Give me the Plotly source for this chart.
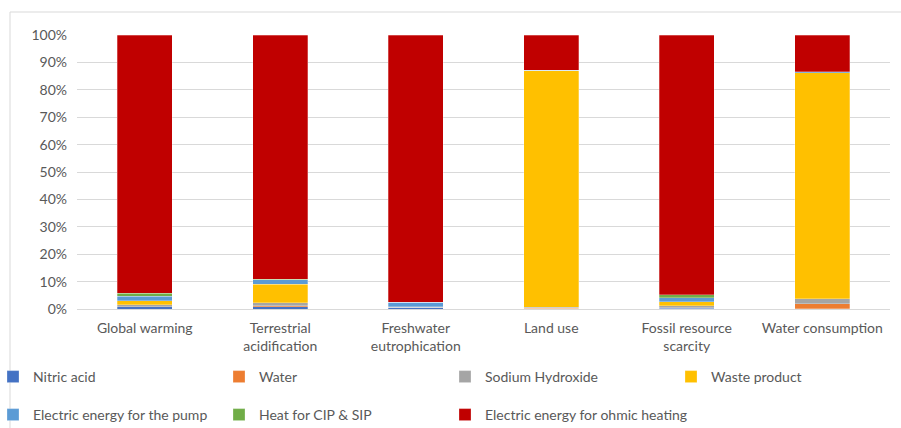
import plotly.graph_objects as go

categories = ["Global warming", "Terrestrial<br>acidification", "Freshwater<br>eutrophication",
              "Land use", "Fossil resource<br>scarcity", "Water consumption"]

nitric_acid = [0.8, 0.9, 0.4, 0.1, 0.3, 0.1]
water = [0.1, 0.2, 0.1, 0.1, 0.1, 1.8]
sodium_hydroxide = [0.7, 1.2, 0.1, 0.4, 0.7, 1.8]
waste_product = [1.5, 6.8, 0.2, 86.4, 1.5, 82.5]
pump_energy = [1.6, 1.5, 1.6, 0.1, 1.5, 0.3]
heat_cip_sip = [1.0, 0.2, 0.1, 0.0, 1.1, 0.1]
ohmic_heating = [94.3, 89.2, 97.5, 12.9, 94.8, 13.4]

y_ticks = list(range(0, 101, 10))
y_tick_labels = [f"{v}%" for v in y_ticks]

series = [
    ("Nitric acid", nitric_acid, "#4472C4"),
    ("Water", water, "#ED7D31"),
    ("Sodium Hydroxide", sodium_hydroxide, "#A5A5A5"),
    ("Waste product", waste_product, "#FFC000"),
    ("Electric energy for the pump", pump_energy, "#5B9BD5"),
    ("Heat for CIP & SIP", heat_cip_sip, "#70AD47"),
    ("Electric energy for ohmic heating", ohmic_heating, "#C00000"),
]

FONT = "Lato, 'Open Sans', sans-serif"
GREY = "#595959"

W, H = 901, 428
L, R, T, B = 77, 11, 35, 119
pw, ph = W - L - R, H - T - B

def px_x(p):
    return (p - L) / pw

def px_y(p):
    return (H - B - p) / ph

# legend grid: four columns, two rows, one legend box per entry
col_x = [-7, 219, 445, 671]
row_y = [377, 415]

fig = go.Figure()
legend_layout = {}
for i, (name, vals, color) in enumerate(series):
    key = "legend" if i == 0 else f"legend{i + 1}"
    fig.add_trace(go.Bar(
        x=categories, y=vals, name=name, legend=key, showlegend=True,
        marker=dict(color=color, line=dict(color="rgba(255,255,255,0.45)", width=0.6)),
    ))
    legend_layout[key] = dict(
        x=px_x(col_x[i % 4]), y=px_y(row_y[i // 4]),
        xanchor="left", yanchor="middle", orientation="h", visible=True,
        font=dict(family=FONT, size=14, color=GREY),
        bgcolor="rgba(0,0,0,0)", itemclick=False, itemdoubleclick=False,
    )

fig.update_layout(
    width=W, height=H, showlegend=True,
    margin=dict(l=L, r=R, t=T, b=B, autoexpand=False),
    barmode="stack", bargap=0.595,
    plot_bgcolor="white", paper_bgcolor="white",
    font=dict(family=FONT, size=14, color=GREY),
    xaxis=dict(showgrid=False, showline=False, ticks="", automargin=False,
               tickfont=dict(size=14, color=GREY), ticklabelstandoff=9),
    yaxis=dict(range=[0, 100], tickvals=y_ticks, ticktext=y_tick_labels, showline=False,
               automargin=False,
               gridcolor="#D9D9D9", gridwidth=1, zeroline=True, zerolinecolor="#D9D9D9",
               zerolinewidth=1, tickfont=dict(size=14, color=GREY), ticklabelstandoff=9),
    shapes=[dict(type="rect", xref="paper", yref="paper",
                 x0=px_x(10), x1=px_x(910), y0=px_y(440), y1=px_y(12),
                 line=dict(color="#D9D9D9", width=1), layer="below")],
    **legend_layout,
)

fig.write_html("out.html")
